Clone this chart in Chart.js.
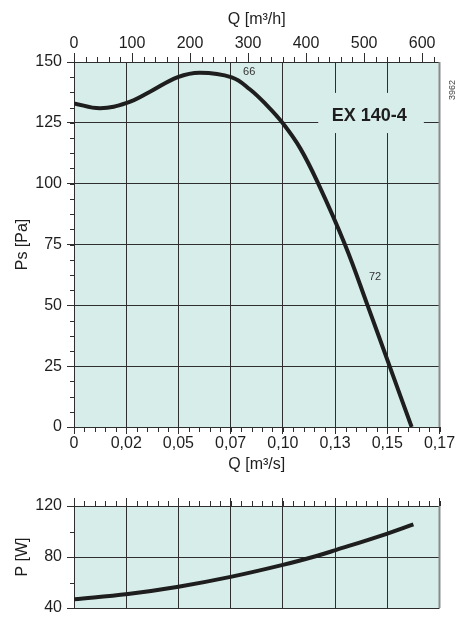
<!DOCTYPE html>
<html>
<head>
<meta charset="utf-8">
<script src="https://cdn.jsdelivr.net/npm/chart.js@4.4.1/dist/chart.umd.min.js"></script>
<style>
  html, body { margin: 0; padding: 0; background: #fff; overflow: hidden; }
  #wrap { position: relative; width: 457px; height: 617px; }
  canvas { position: absolute; left: 0; }
  #cPs { top: 0; }
  #cP { top: 480px; }
</style>
</head>
<body>
<div id="wrap">
  <canvas id="cPs" width="457" height="480"></canvas>
  <canvas id="cP" width="457" height="140"></canvas>
</div>
<script>
// air flow in m³/h
const qPressure = [0, 45, 91, 131, 179, 217, 272, 303, 332, 360, 390, 421, 467, 506, 544, 582];
const pressure = [133, 131, 133.2, 137.8, 143.8, 145.6, 143.7, 138.8, 132.3, 124.8, 114.5, 100, 75, 50, 25, 0];

const qPower = [0, 93, 180, 272, 360, 418, 451, 539, 585];
const power = [46.8, 51, 56.7, 64.6, 73.8, 80.8, 85.4, 98.2, 105.6];

// bottom axis labels, one per grid line (0.025 m³/s = 90 m³/h)
const qsLabels = ['0', '0,02', '0,05', '0,07', '0,10', '0,13', '0,15', '0,17'];

const BG = '#d6edea';
const INK = '#1e1e1e';
const GRID = '#2e2e2e';

Chart.defaults.font.family = '"Liberation Sans", Arial, sans-serif';
Chart.defaults.font.size = 16;
Chart.defaults.color = INK;

// fill plot area + gray right frame
const plotFrame = {
    id: 'plotFrame',
    beforeDraw(chart) {
        const a = chart.chartArea, ctx = chart.ctx;
        ctx.save();
        ctx.fillStyle = BG;
        ctx.fillRect(a.left, a.top, a.right - a.left, a.bottom - a.top);
        ctx.restore();
    },
    afterDraw(chart) {
        const a = chart.chartArea, ctx = chart.ctx;
        ctx.save();
        ctx.strokeStyle = '#8a8a8a';
        ctx.lineWidth = 2;
        ctx.beginPath();
        ctx.moveTo(a.right, a.top);
        ctx.lineTo(a.right, a.bottom);
        ctx.stroke();
        ctx.restore();
    }
};

// small ticks between the labelled ones
const minorTicks = {
    id: 'minorTicks',
    afterDraw(chart, args, opts) {
        const ctx = chart.ctx;
        ctx.save();
        ctx.strokeStyle = GRID;
        ctx.lineWidth = 1;
        ctx.beginPath();
        (opts.items || []).forEach(it => {
            const s = chart.scales[it.axis];
            for (let v = s.min; v <= s.max + 1e-9; v += it.step) {
                const p = Math.round(s.getPixelForValue(v)) + 0.5;
                if (it.side === 'top') { ctx.moveTo(p, s.bottom); ctx.lineTo(p, s.bottom - it.len); }
                else if (it.side === 'bottom') { ctx.moveTo(p, s.top); ctx.lineTo(p, s.top + it.len); }
                else { ctx.moveTo(s.right, p); ctx.lineTo(s.right - it.len, p); }
            }
        });
        ctx.stroke();
        ctx.restore();
    }
};

// model label and curve notes
const notes = {
    id: 'notes',
    beforeDatasetsDraw(chart) {
        const x = chart.scales.x, y = chart.scales.y, ctx = chart.ctx;
        ctx.save();
        const x0 = x.getPixelForValue(421), x1 = x.getPixelForValue(603);
        const y0 = y.getPixelForValue(137.3), y1 = y.getPixelForValue(120.8);
        ctx.fillStyle = BG;
        ctx.fillRect(x0, y0, x1 - x0, y1 - y0);
        ctx.fillStyle = INK;
        ctx.font = 'bold 18px "Liberation Sans", Arial, sans-serif';
        ctx.textAlign = 'center';
        ctx.textBaseline = 'middle';
        ctx.fillText('EX 140-4', x.getPixelForValue(509), y.getPixelForValue(128));
        ctx.font = '11px "Liberation Sans", Arial, sans-serif';
        ctx.fillStyle = '#333';
        ctx.fillText('66', x.getPixelForValue(302), y.getPixelForValue(146));
        ctx.fillText('72', x.getPixelForValue(519), y.getPixelForValue(61.5));
        ctx.translate(chart.chartArea.right + 13, y.getPixelForValue(138.5));
        ctx.rotate(-Math.PI / 2);
        ctx.font = '9px "Liberation Sans", Arial, sans-serif';
        ctx.fillStyle = '#444';
        ctx.fillText('3962', 0, 0);
        ctx.restore();
    }
};

const gridOpts = { color: GRID, lineWidth: 1, tickColor: GRID };

new Chart(document.getElementById('cPs'), {
    type: 'scatter',
    data: {
        datasets: [{
            data: qPressure.map((q, i) => ({ x: q, y: pressure[i] })),
            showLine: true,
            borderColor: INK,
            borderWidth: 4,
            pointRadius: 0,
            tension: 0.4
        }]
    },
    options: {
        responsive: false,
        animation: false,
        layout: { padding: { right: 17.5 } },
        plugins: {
            legend: { display: false },
            tooltip: { enabled: false },
            minorTicks: {
                items: [
                    { axis: 'xh', step: 20, len: 5, side: 'top' },
                    { axis: 'x', step: 18, len: 5, side: 'bottom' },
                    { axis: 'y', step: 6.25, len: 4, side: 'left' }
                ]
            }
        },
        scales: {
            x: {
                type: 'linear', position: 'bottom', min: 0, max: 630,
                ticks: { stepSize: 90, callback: (v, i) => qsLabels[i], maxRotation: 0, autoSkip: false, padding: 0 },
                grid: { ...gridOpts, tickLength: 7 },
                border: { color: GRID },
                title: { display: true, text: 'Q [m³/s]', padding: { top: 0, bottom: 6 } },
                afterFit(s) { s.height = 53; }
            },
            xh: {
                type: 'linear', position: 'top', min: 0, max: 630,
                ticks: { stepSize: 100, includeBounds: false, maxRotation: 0, padding: 0 },
                grid: { ...gridOpts, drawOnChartArea: false, tickLength: 9 },
                border: { color: GRID },
                title: { display: true, text: 'Q [m³/h]', padding: { top: 10, bottom: 0 } },
                afterFit(s) { s.height = 62; }
            },
            y: {
                min: 0, max: 150,
                ticks: { stepSize: 25, padding: 5 },
                grid: { ...gridOpts, tickLength: 7 },
                border: { color: GRID },
                title: { display: true, text: 'Ps [Pa]', padding: { top: 13, bottom: 0 } },
                afterFit(s) { s.width = 74; }
            }
        }
    },
    plugins: [plotFrame, minorTicks, notes]
});

new Chart(document.getElementById('cP'), {
    type: 'scatter',
    data: {
        datasets: [{
            data: qPower.map((q, i) => ({ x: q, y: power[i] })),
            showLine: true,
            borderColor: INK,
            borderWidth: 4,
            pointRadius: 0,
            tension: 0.4
        }]
    },
    options: {
        responsive: false,
        animation: false,
        layout: { padding: { right: 17.5, bottom: 12 } },
        plugins: {
            legend: { display: false },
            tooltip: { enabled: false },
            minorTicks: {
                items: [
                    { axis: 'x', step: 18, len: 5, side: 'top' },
                    { axis: 'y', step: 20, len: 4, side: 'left' }
                ]
            }
        },
        scales: {
            x: {
                type: 'linear', position: 'top', min: 0, max: 630,
                ticks: { stepSize: 90, display: false },
                grid: { ...gridOpts, tickLength: 8 },
                border: { color: GRID },
                afterFit(s) { s.height = 26; }
            },
            y: {
                min: 40, max: 120,
                ticks: { stepSize: 40, padding: 5 },
                grid: { ...gridOpts, tickLength: 7 },
                border: { color: GRID },
                title: { display: true, text: 'P [W]', padding: { top: 13, bottom: 0 } },
                afterFit(s) { s.width = 74; s.paddingTop = 0; s.paddingBottom = 0; }
            }
        }
    },
    plugins: [plotFrame, minorTicks]
});
</script>
</body>
</html>
